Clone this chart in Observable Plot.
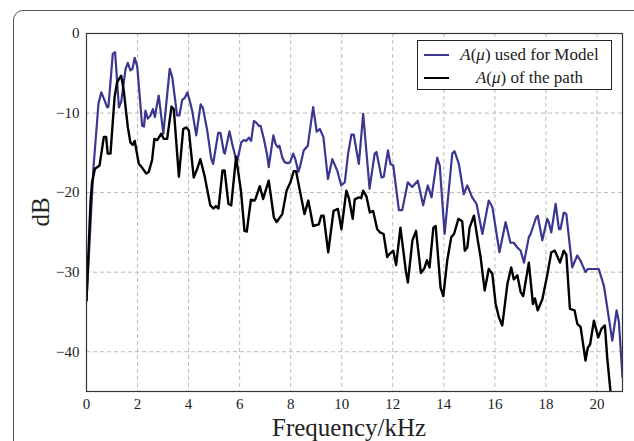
<!DOCTYPE html>
<html>
<head>
<meta charset="utf-8">
<script src="https://cdn.jsdelivr.net/npm/d3@7"></script>
<script src="https://cdn.jsdelivr.net/npm/@observablehq/plot@0.6"></script>
<style>
  html, body { margin: 0; padding: 0; background: #fff; }
  #wrap { position: relative; width: 634px; height: 441px; overflow: hidden; font-family: "Liberation Serif", "DejaVu Serif", serif; }
  #card { position: absolute; left: 13px; top: 10px; width: 640px; height: 470px; border: 1.3px solid #555; border-radius: 10px; box-sizing: border-box; }
  #chart { position: absolute; left: 0; top: 0; }
  .lbl { position: absolute; color: #222; font-size: 25px; line-height: 25px; white-space: nowrap; }
  #legend { position: absolute; left: 417px; top: 40px; width: 195px; height: 50px; border: 1px solid #222; background: #fff; box-sizing: border-box; font-size: 17px; color: #222; }
  .row { position: absolute; left: 0; width: 100%; height: 20px; }
  .swatch { position: absolute; left: 6px; width: 25px; height: 0; }
  .txt { position: absolute; left: 34px; right: 4px; text-align: center; top: -10px; line-height: 20px; white-space: nowrap; }
</style>
</head>
<body>
<div id="wrap">
  <div id="card"></div>
  <div id="chart"></div>
  <div class="lbl" style="left:272px; top:415px;">Frequency/kHz</div>
  <div class="lbl" style="left:24px; top:212px; transform: translate(0,-50%) rotate(-90deg); transform-origin: 50% 50%; width:32px; text-align:center;">dB</div>
  <div id="legend">
    <div class="row" style="top:14px;"><div class="swatch" style="border-top:2.2px solid #3b3690; top:-1px;"></div><div class="txt"><i>A</i>(<i>μ</i>) used for Model</div></div>
    <div class="row" style="top:37px;"><div class="swatch" style="border-top:2.4px solid #000; top:-1px;"></div><div class="txt"><i>A</i>(<i>μ</i>) of the path</div></div>
  </div>
</div>
<script>
// Axis ticks
const xTicks = [0, 2, 4, 6, 8, 10, 12, 14, 16, 18, 20];
const yTicks = [0, -10, -20, -30, -40];

// A(mu) used for Model (purple)
const freqModel = [0,0.27,0.47,0.58,0.71,0.81,0.86,1.03,1.12,1.27,1.36,1.53,1.62,1.72,1.80,1.89,1.99,2.18,2.25,2.31,2.40,2.51,2.60,2.68,2.74,2.83,3.01,3.26,3.36,3.55,3.64,3.75,3.85,3.95,4.04,4.14,4.30,4.47,4.56,4.73,4.89,4.96,5.16,5.25,5.38,5.42,5.60,5.71,5.84,5.91,6.06,6.16,6.26,6.36,6.45,6.56,6.65,6.75,6.82,6.95,7.08,7.14,7.32,7.41,7.50,7.56,7.67,7.77,7.89,7.97,8.10,8.19,8.30,8.36,8.51,8.67,8.88,9.02,9.14,9.28,9.46,9.63,9.82,9.98,10.12,10.25,10.38,10.47,10.67,10.84,11.09,11.29,11.36,11.56,11.65,11.81,11.91,12.02,12.24,12.37,12.59,12.76,12.98,13.19,13.37,13.52,13.74,13.84,14.03,14.33,14.42,14.59,14.78,14.92,15.11,15.28,15.51,15.76,15.90,16.18,16.42,16.61,16.74,16.88,17.01,17.14,17.33,17.40,17.62,17.68,17.86,18.05,18.11,18.21,18.38,18.51,18.57,18.70,18.80,19.03,19.23,19.36,19.55,19.64,19.82,20.07,20.27,20.40,20.60,20.77,20.86,21.0];
const dbModel = [-33.6,-17,-8.8,-7.4,-8.4,-9.3,-9.2,-2.55,-2.35,-9.3,-8.6,-4.45,-3.7,-4.65,-4.45,-3.06,-4.2,-11.6,-11.7,-9.7,-10.7,-10.3,-9.5,-10.5,-9.3,-7.8,-12.6,-4.45,-5.5,-10.3,-10.3,-8.35,-8.1,-7.4,-8.4,-9.7,-12.8,-8.9,-9.35,-12.2,-15.8,-16.4,-12.5,-12.5,-14.9,-15.1,-12.3,-13.9,-15.6,-16.0,-13.7,-13.4,-13.5,-13.1,-13.5,-11.0,-11.2,-11.6,-11.6,-13.25,-15.3,-16.8,-12.8,-13.9,-14.3,-14.1,-15.6,-16.2,-16.3,-16.2,-15.1,-15.9,-17.4,-16.8,-14.7,-14.1,-9.25,-12.35,-12.0,-13.0,-18.3,-15.8,-17.2,-19.1,-18.7,-15.1,-12.7,-12.7,-16.4,-10.1,-19.5,-15.1,-14.9,-18.1,-18.0,-14.7,-16.4,-16.6,-22.2,-22.2,-18.7,-19.3,-18.5,-21.6,-19.1,-20.6,-15.6,-16.6,-25.2,-15.1,-14.8,-16.4,-20.2,-19.1,-20.6,-21.4,-25.2,-21.0,-21.8,-27.5,-23.7,-26.3,-26.3,-26.9,-27.3,-28.8,-25.6,-25.2,-23.1,-22.9,-26.0,-23.3,-23.7,-25.0,-21.4,-24.6,-24.6,-22.5,-22.7,-29.4,-27.9,-28.6,-30.0,-29.6,-29.6,-29.6,-31.7,-34.4,-38.6,-34.8,-36.3,-43.2];

// A(mu) of the path (black)
const freqPath = [0,0.16,0.22,0.33,0.42,0.51,0.68,0.77,0.83,0.94,1.10,1.20,1.36,1.46,1.62,1.72,1.81,1.89,2.05,2.14,2.34,2.44,2.57,2.66,2.77,2.93,3.03,3.16,3.33,3.42,3.62,3.79,3.91,4.01,4.20,4.34,4.46,4.62,4.85,4.98,5.07,5.17,5.33,5.41,5.56,5.67,5.86,6.05,6.19,6.28,6.44,6.58,6.62,6.79,6.92,7.14,7.34,7.45,7.67,7.84,7.99,8.12,8.21,8.36,8.54,8.69,8.88,9.10,9.20,9.29,9.47,9.68,9.85,9.99,10.18,10.28,10.43,10.51,10.67,10.76,10.84,10.97,11.10,11.23,11.39,11.50,11.64,11.78,11.88,12.02,12.13,12.30,12.51,12.59,12.77,12.91,13.10,13.24,13.34,13.44,13.59,13.68,13.87,13.98,14.13,14.29,14.40,14.57,14.72,14.82,14.92,15.01,15.18,15.33,15.44,15.60,15.76,15.90,16.03,16.16,16.29,16.49,16.64,16.74,16.88,17.01,17.11,17.33,17.49,17.57,17.68,17.86,18.05,18.21,18.35,18.55,18.70,18.80,18.94,19.12,19.23,19.36,19.55,19.64,19.73,19.88,20.05,20.18,20.31,20.40,20.53,20.61];
const dbPath = [-33.6,-21,-18.7,-17.0,-16.8,-16.6,-13.0,-13.0,-15.1,-15.1,-8.0,-6.1,-5.3,-7.2,-11.8,-13.7,-14.0,-13.5,-16.4,-16.7,-17.6,-17.4,-15.9,-13.25,-13.4,-12.6,-13.25,-13.25,-9.2,-9.5,-18.0,-12.0,-11.8,-12.2,-18.1,-17.0,-15.8,-17.8,-21.6,-22.0,-21.7,-22.0,-17.2,-17.2,-21.4,-21.6,-15.5,-19.75,-24.8,-24.9,-20.9,-21.0,-20.8,-19.2,-20.8,-18.5,-23.1,-23.7,-22.7,-19.75,-18.7,-17.3,-17.3,-19.75,-22.7,-21.0,-24.2,-24.0,-22.9,-22.9,-27.5,-22.3,-22.05,-24.6,-19.75,-20.7,-23.3,-20.85,-20.6,-20.7,-19.75,-20.5,-22.5,-22.3,-24.6,-25.0,-25.2,-28.1,-27.7,-27.3,-29.1,-24.4,-29.8,-31.3,-26.0,-24.8,-30.1,-29.5,-28.5,-29.4,-24.4,-24.2,-31.9,-33.0,-28.6,-25.6,-25.2,-23.3,-23.6,-27.3,-26.9,-24.4,-22.9,-26.0,-28.1,-32.3,-29.6,-30.2,-34.0,-35.7,-36.7,-31.5,-29.4,-30.9,-30.4,-32.5,-33.0,-28.8,-34.0,-33.3,-34.8,-33.4,-30.4,-27.5,-27.3,-28.8,-27.3,-27.8,-34.6,-34.8,-36.5,-36.9,-41.1,-39.5,-39.1,-36.1,-38.2,-37.1,-36.7,-40.7,-45,-50];

const model = freqModel.map((f, i) => ({f, db: dbModel[i]}));
const path = freqPath.map((f, i) => ({f, db: dbPath[i]}));

const minus = d => (d < 0 ? "\u2212" + Math.abs(d) : String(d));

const chart = Plot.plot({
  width: 634,
  height: 441,
  marginLeft: 86,
  marginRight: 12,
  marginTop: 33,
  marginBottom: 50,
  style: { fontFamily: "'Liberation Serif', 'DejaVu Serif', serif", fontSize: "15px", color: "#222", background: "transparent" },
  x: { domain: [0, 21], ticks: xTicks, tickFormat: minus, tickSize: 0, tickPadding: 7, label: null },
  y: { domain: [-45, 0], ticks: yTicks, tickFormat: minus, tickSize: 0, tickPadding: 7, label: null },
  marks: [
    Plot.ruleX(xTicks.filter(d => d > 0), { stroke: "#bbb", strokeWidth: 1, strokeDasharray: "4,3" }),
    Plot.ruleY(yTicks.filter(d => d < 0), { stroke: "#bbb", strokeWidth: 1, strokeDasharray: "4,3" }),
    Plot.line(model, { x: "f", y: "db", stroke: "#3b3690", strokeWidth: 2.2, clip: true }),
    Plot.line(path, { x: "f", y: "db", stroke: "#000", strokeWidth: 2.4, clip: true }),
    Plot.frame({ stroke: "#333", strokeWidth: 1.2 })
  ]
});
document.getElementById("chart").appendChild(chart);
</script>
</body>
</html>
